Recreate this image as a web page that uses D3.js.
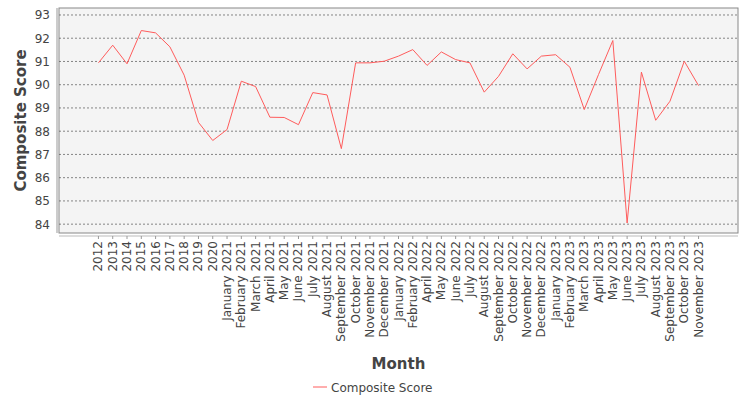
<!DOCTYPE html>
<html><head><meta charset="utf-8">
<script src="https://cdn.jsdelivr.net/npm/d3@7"></script>
<style>body{margin:0;background:#fff}text{font-family:"DejaVu Sans",sans-serif}</style>
</head><body><svg id="c" width="750" height="400"></svg>
<script>
var months = ['2012','2013','2014','2015','2016','2017','2018','2019','2020',
  'January 2021','February 2021','March 2021','April 2021','May 2021','June 2021','July 2021',
  'August 2021','September 2021','October 2021','November 2021','December 2021',
  'January 2022','February 2022','April 2022','May 2022','June 2022','July 2022','August 2022',
  'September 2022','October 2022','November 2022','December 2022',
  'January 2023','February 2023','March 2023','April 2023','May 2023','June 2023','July 2023',
  'August 2023','September 2023','October 2023','November 2023'];
var scores = [90.94,91.7,90.9,92.33,92.23,91.63,90.41,88.38,87.6,
  88.07,90.15,89.92,88.6,88.59,88.28,89.66,89.56,87.25,90.94,90.94,91.01,
  91.23,91.51,90.83,91.41,91.08,90.94,89.68,90.36,91.33,90.68,91.23,
  91.29,90.75,88.93,90.44,91.9,84.05,90.54,88.47,89.29,91.01,89.96];
var yTicks = [84,85,86,87,88,89,90,91,92,93];

var svg = d3.select('#c');
var L = 59, R = 738, T = 8, B = 233;

var x = d3.scalePoint().domain(months).range([L, R]).padding(2.76);
var y = d3.scaleLinear().domain([83.62, 93.3]).range([B, T]);

svg.append('rect').attr('x', L).attr('y', T).attr('width', R - L).attr('height', B - T)
    .attr('fill', '#f4f4f4').attr('stroke', '#888');

svg.selectAll('.grid').data(yTicks).enter().append('line')
    .attr('x1', L).attr('x2', R)
    .attr('y1', function(d) { return y(d); }).attr('y2', function(d) { return y(d); })
    .attr('stroke', '#555').attr('stroke-width', 0.7).attr('stroke-dasharray', '2,2');

svg.append('line').attr('x1', L - 2).attr('x2', L - 2).attr('y1', T).attr('y2', B)
    .attr('stroke', '#999');

svg.selectAll('.yl').data(yTicks).enter().append('text')
    .attr('x', 50).attr('y', function(d) { return y(d) + 4.5; })
    .attr('text-anchor', 'end').attr('font-size', 12).attr('fill', '#444')
    .text(function(d) { return d; });

svg.append('line').attr('x1', L).attr('x2', R).attr('y1', B + 3).attr('y2', B + 3).attr('stroke', '#bbb');
svg.selectAll('.xt').data(months).enter().append('line')
    .attr('x1', function(d) { return x(d); }).attr('x2', function(d) { return x(d); })
    .attr('y1', B + 3).attr('y2', B + 6).attr('stroke', '#999');

svg.selectAll('.xl').data(months).enter().append('text')
    .attr('transform', function(d) { return 'translate(' + (x(d) + 4) + ',' + (B + 8) + ') rotate(-90)'; })
    .attr('text-anchor', 'end').attr('font-size', 12).attr('fill', '#444')
    .text(function(d) { return d; });

svg.append('path').datum(scores)
    .attr('fill', 'none').attr('stroke', '#ff5c5c').attr('stroke-width', 1)
    .attr('d', d3.line().x(function(d, i) { return x(months[i]); }).y(function(d) { return y(d); }));

svg.append('text').attr('transform', 'translate(26,' + ((T + B) / 2) + ') rotate(-90)')
    .attr('text-anchor', 'middle').attr('font-size', 15).attr('font-weight', 'bold').attr('fill', '#444')
    .text('Composite Score');
svg.append('text').attr('x', (L + R) / 2).attr('y', 369)
    .attr('text-anchor', 'middle').attr('font-size', 15).attr('font-weight', 'bold').attr('fill', '#444')
    .text('Month');

svg.append('line').attr('x1', 313).attr('x2', 327).attr('y1', 387).attr('y2', 387).attr('stroke', '#ff5c5c');
svg.append('text').attr('x', 331).attr('y', 391.5).attr('font-size', 12).attr('fill', '#444').text('Composite Score');
</script></body></html>
